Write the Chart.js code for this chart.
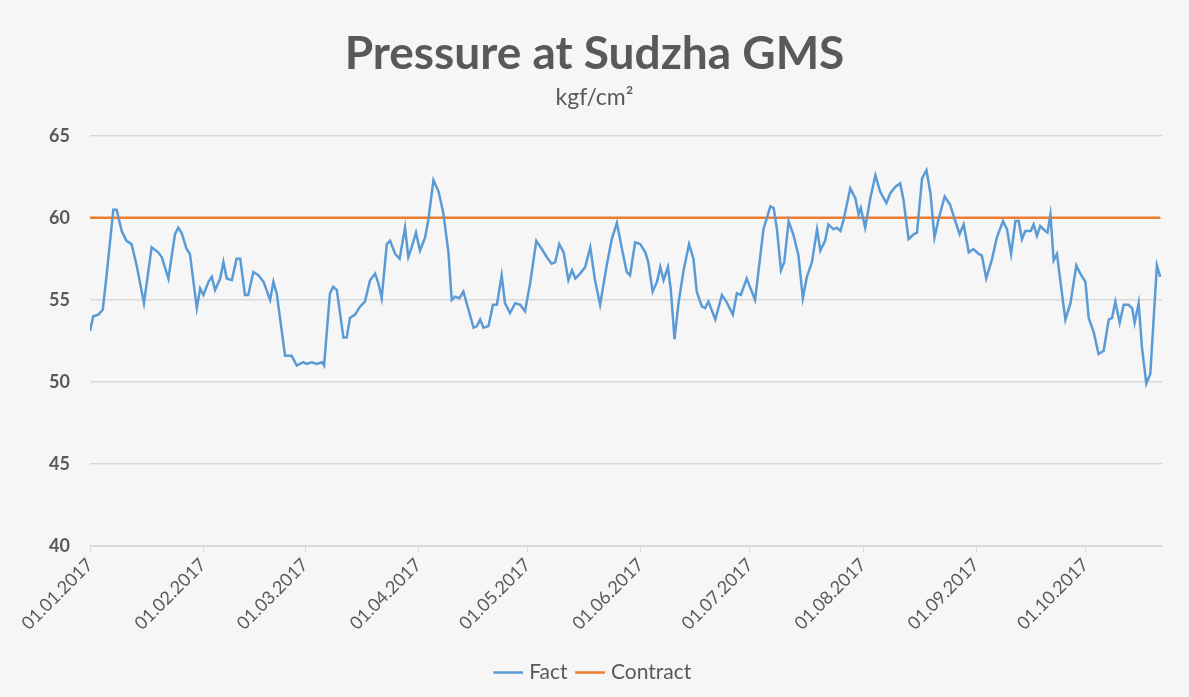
<!DOCTYPE html>
<html>
<head>
<meta charset="utf-8">
<title>Pressure at Sudzha GMS</title>
<script src="https://cdn.jsdelivr.net/npm/chart.js@4/dist/chart.umd.min.js"></script>
<style>
    body { margin: 0; background: #f6f6f6; }
    #chart { display: block; }
</style>
</head>
<body>
<canvas id="chart" width="1189" height="697"></canvas>
<script>
// Days since 01.01.2017
const factDays = [
    0, 0.9, 2.3, 3.5, 4.6, 6.4, 7.3, 8.7, 10, 11.4, 12.8, 14.8, 16.9, 18.7, 19.7, 21.5,
    23.3, 24.2, 25.1, 26.5, 27.4, 29.3, 30.2, 31.1, 32.5, 33.4, 34.3, 35.7, 36.6, 37.5, 38.9,
    40.2, 41.2, 42.5, 43.4, 44.8, 46.2, 47.6, 49.4, 50.3, 51.2, 53.5, 55.3, 56.7, 58.5, 59.4,
    60.8, 62.2, 63.6, 64.2, 65.8, 66.7, 67.7, 69.5, 70.4, 71.3, 72.7, 74.1, 75.4, 76.8, 78.2,
    79.1, 80, 81.4, 82.3, 83.7, 84.9, 86.4, 87.3, 88.2, 89.4, 90.5, 91.9, 92.8, 94.2, 95.6,
    96.9, 98.3, 99.2, 100.1, 101.3, 102.4, 103.8, 105.2, 106.1, 107, 107.9, 109.3, 110.5, 111.6,
    112.9, 113.8, 115.2, 116.6, 118, 119.3, 120.7, 122.4, 123.9, 125.3, 126.6, 127.6, 128.7,
    129.9, 131.2, 132.2, 133.1, 134.4, 135.8, 137.2, 138.5, 139.9, 141.7, 143.1, 144.5, 145.9,
    147.2, 148.1, 149.5, 150.9, 152.3, 153.1, 154.3, 155.5, 156.4, 157.3, 158.5, 159.3, 160.3,
    161.4, 162.8, 164.3, 165.5, 166.4, 167.8, 168.7, 169.6, 171.5, 173.3, 174.5, 176.3, 177.4,
    178.5, 180.1, 182.4, 184.7, 186.6, 187.5, 188.4, 189.5, 190.4, 191.6, 193, 194.3, 195.5,
    196.6, 198, 199.4, 200.3, 201.6, 202.5, 203.9, 204.8, 205.8, 206.7, 208.5, 209.9, 210.8,
    211.4, 212.6, 214, 215.4, 216.7, 218.4, 219.5, 220.9, 222.2, 223.1, 224.5, 225.9, 226.8,
    228.2, 229.4, 230.5, 231.6, 232.7, 234.4, 235.9, 237.3, 238.5, 239.6, 241, 242.3, 243.7,
    244.6, 245.8, 247.4, 248.7, 250.4, 251.5, 252.6, 253.8, 254.7, 255.6, 256.5, 258, 258.8,
    259.7, 260.6, 262, 262.6, 263.4, 264.3, 265.2, 266.1, 267.5, 268.9, 270.5, 271.6, 273,
    273.9, 275.3, 276.6, 278, 279.4, 280.3, 281.2, 282.4, 283.5, 284.8, 285.8, 286.5, 287.6,
    288.5, 289.7, 290.8, 292.6, 293.5
];

const factValues = [
    53.1, 54.0, 54.1, 54.4, 56.6, 60.5, 60.5, 59.2, 58.6, 58.4, 57.1, 54.8, 58.2, 57.9, 57.6, 56.3,
    59.0, 59.4, 59.1, 58.1, 57.8, 54.5, 55.7, 55.3, 56.1, 56.4, 55.6, 56.3, 57.3, 56.3, 56.2,
    57.5, 57.5, 55.3, 55.3, 56.7, 56.5, 56.1, 55.0, 56.1, 55.4, 51.6, 51.6, 51.0, 51.2, 51.1,
    51.2, 51.1, 51.2, 51.0, 55.4, 55.8, 55.6, 52.7, 52.7, 53.9, 54.1, 54.6, 54.9, 56.2, 56.6,
    56.0, 55.1, 58.4, 58.6, 57.8, 57.5, 59.4, 57.6, 58.2, 59.1, 58.0, 58.8, 59.9, 62.3, 61.6,
    60.3, 57.9, 55.0, 55.2, 55.1, 55.5, 54.4, 53.3, 53.4, 53.8, 53.3, 53.4, 54.7, 54.7,
    56.5, 54.8, 54.2, 54.8, 54.7, 54.3, 56.0, 58.6, 58.1, 57.6, 57.2, 57.3, 58.4,
    57.9, 56.2, 56.8, 56.3, 56.6, 57.0, 58.2, 56.2, 54.7, 57.1, 58.7, 59.7, 58.1,
    56.7, 56.5, 58.5, 58.4, 57.9, 57.3, 55.5, 56.1, 57.0, 56.2, 57.0, 55.6, 52.6,
    54.8, 56.8, 58.4, 57.5, 55.5, 54.6, 54.5, 54.9, 53.8, 55.3, 54.9, 54.1, 55.4,
    55.3, 56.3, 55.0, 59.3, 60.7, 60.6, 59.3, 56.8, 57.3, 59.8, 58.9, 57.7, 55.1,
    56.4, 57.3, 59.3, 58.0, 58.6, 59.6, 59.3, 59.4, 59.2, 59.9, 61.8, 61.2, 60.2,
    60.6, 59.4, 61.2, 62.6, 61.6, 60.9, 61.5, 61.9, 62.1, 61.1, 58.7, 59.0, 59.1,
    62.4, 62.9, 61.5, 58.8, 59.9, 61.3, 60.8, 59.8, 59.0, 59.6, 57.9, 58.1, 57.8,
    57.7, 56.3, 57.5, 58.8, 59.8, 59.3, 57.8, 59.8, 59.8, 58.7, 59.2, 59.2, 59.6,
    58.9, 59.5, 59.2, 59.1, 60.2, 57.4, 57.8, 56.2, 53.8, 54.8, 57.1, 56.6, 56.1,
    53.9, 53.0, 51.7, 51.9, 53.8, 53.9, 54.9, 53.6, 54.7, 54.7, 54.5, 53.6, 54.8,
    52.1, 49.9, 50.5, 57.1, 56.4
];

const contractValue = 60;

// Month starts for the x axis
const monthDays = [0, 31, 59, 90, 120, 151, 181, 212, 243, 273];
const monthLabels = ['01.01.2017', '01.02.2017', '01.03.2017', '01.04.2017', '01.05.2017',
    '01.06.2017', '01.07.2017', '01.08.2017', '01.09.2017', '01.10.2017'];

const yTicks = [40, 45, 50, 55, 60, 65];

const textColor = '#595959';
const gridColor = '#d9d9d9';

const factPoints = factDays.map((d, i) => ({ x: d, y: factValues[i] }));
const contractPoints = factDays.map(d => ({ x: d, y: contractValue }));

new Chart(document.getElementById('chart'), {
    type: 'line',
    data: {
        datasets: [{
            label: 'Fact',
            data: factPoints,
            borderColor: '#5b9bd5',
            backgroundColor: '#5b9bd5',
            borderWidth: 2.5,
            pointRadius: 0,
            tension: 0
        }, {
            label: 'Contract',
            data: contractPoints,
            borderColor: '#ed7d31',
            backgroundColor: '#ed7d31',
            borderWidth: 2.5,
            pointRadius: 0,
            tension: 0
        }]
    },
    options: {
        responsive: false,
        animation: false,
        // equal side padding keeps title and legend centred on the canvas
        layout: { padding: { left: 14, right: 14, top: 0, bottom: 4 } },
        plugins: {
            title: {
                display: true,
                text: 'Pressure at Sudzha GMS',
                color: textColor,
                font: { family: 'Lato', size: 46, weight: 'bold' },
                padding: { top: 27, bottom: 2 }
            },
            subtitle: {
                display: true,
                text: 'kgf/cm²',
                color: textColor,
                font: { family: 'Lato', size: 23 },
                padding: { top: 0, bottom: 24 }
            },
            legend: {
                position: 'bottom',
                labels: {
                    color: textColor,
                    font: { family: 'Lato', size: 21 },
                    usePointStyle: true,
                    pointStyle: 'line',
                    boxWidth: 30,
                    padding: 12
                }
            },
            tooltip: { enabled: false }
        },
        scales: {
            x: {
                type: 'linear',
                min: 0,
                max: 294,
                afterBuildTicks: axis => {
                    axis.ticks = monthDays.map(v => ({ value: v }));
                },
                afterFit: scale => { scale.height = 104; },
                ticks: {
                    color: textColor,
                    font: { family: 'Lato', size: 18 },
                    minRotation: 45,
                    maxRotation: 45,
                    autoSkip: false,
                    padding: 2,
                    callback: value => monthLabels[monthDays.indexOf(value)]
                },
                grid: {
                    drawOnChartArea: false,
                    color: gridColor,
                    tickLength: 6
                },
                border: { color: gridColor }
            },
            y: {
                min: 40,
                max: 65,
                afterBuildTicks: axis => {
                    axis.ticks = yTicks.map(v => ({ value: v }));
                },
                afterFit: scale => { scale.width = 76; },
                ticks: {
                    color: textColor,
                    font: { family: 'Lato', size: 18, weight: 'bold' },
                    padding: 20
                },
                grid: {
                    color: gridColor,
                    lineWidth: 1.5,
                    drawTicks: false
                },
                border: { display: false }
            },
            // empty right axis, only to leave the gap on the right of the plot
            yRight: {
                position: 'right',
                min: 40,
                max: 65,
                afterFit: scale => { scale.width = 13; },
                ticks: { display: false },
                grid: { display: false },
                border: { display: false }
            }
        }
    }
});
</script>
</body>
</html>
